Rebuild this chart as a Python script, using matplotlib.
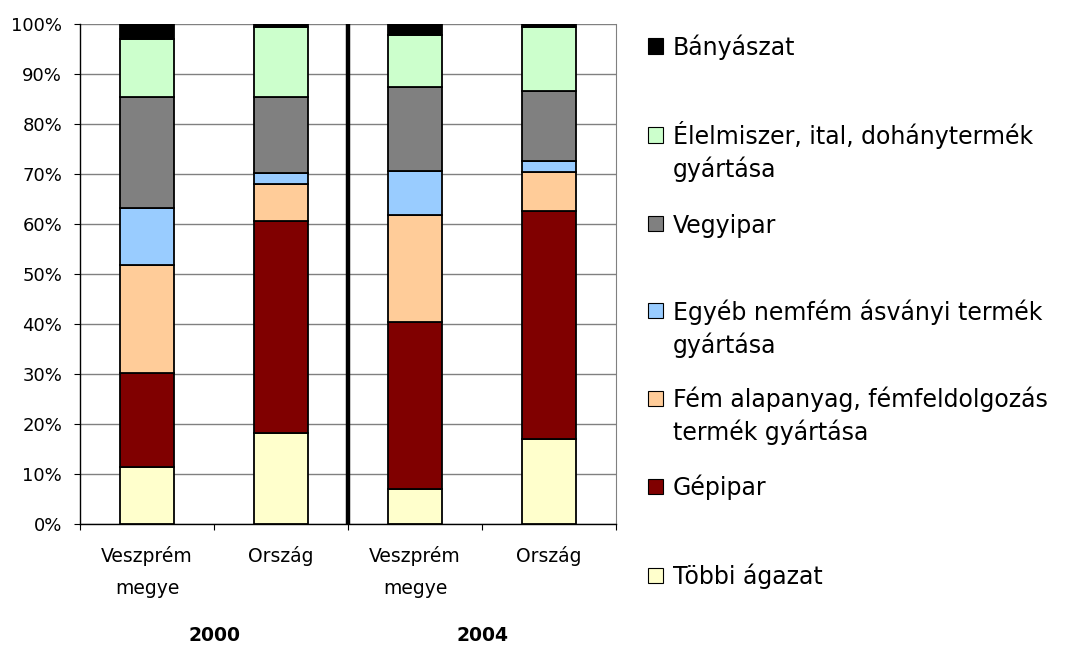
import numpy as np
import matplotlib
matplotlib.use("Agg")
import matplotlib.pyplot as plt
from matplotlib.patches import Rectangle
from matplotlib.transforms import blended_transform_factory

plt.rcParams["font.family"] = ["DejaVu Sans"]

# categories (two regions, two years)
categories = ["Veszprém\nmegye", "Ország", "Veszprém\nmegye", "Ország"]
years = ["2000", "2004"]

# shares in percent, bottom to top of each stack
tobbi = [11.5, 18.3, 7.1, 17.1]
gepipar = [18.7, 42.4, 33.3, 45.6]
fem = [21.7, 7.3, 21.5, 7.8]
egyeb = [11.3, 2.3, 8.8, 2.2]
vegyipar = [22.3, 15.2, 16.8, 14.0]
elelmiszer = [11.5, 14.0, 10.4, 12.8]
banyaszat = [3.0, 0.5, 2.1, 0.5]

series = [tobbi, gepipar, fem, egyeb, vegyipar, elelmiszer, banyaszat]
names = [
    "Többi ágazat",
    "Gépipar",
    "Fém alapanyag, fémfeldolgozás\ntermék gyártása",
    "Egyéb nemfém ásványi termék\ngyártása",
    "Vegyipar",
    "Élelmiszer, ital, dohánytermék\ngyártása",
    "Bányászat",
]
colors = ["#FFFFCC", "#800000", "#FFCC99", "#99CCFF", "#808080", "#CCFFCC", "#000000"]

W, H = 1076, 646
fig = plt.figure(figsize=(W / 100, H / 100), dpi=100)
ax = fig.add_axes([80 / W, 1 - 524.3 / H, 536 / W, 500 / H])

x = np.arange(len(categories))
bottom = np.zeros(len(categories))
for vals, col in zip(series, colors):
    ax.bar(x, vals, width=0.4, bottom=bottom, color=col, edgecolor="black",
           linewidth=1.3, zorder=3)
    bottom += np.array(vals)

# thick divider between the two years
ax.axvline(1.5, ymin=0, ymax=0.998, color="black", linewidth=3.2, zorder=4)

ax.set_xlim(-0.5, len(categories) - 0.5)
ax.set_ylim(0, 100)
ax.set_yticks(np.arange(0, 101, 10))
ax.set_yticklabels([f"{v}%" for v in range(0, 101, 10)], fontsize=13)
ax.yaxis.grid(True, color="#808080", linewidth=1.0, zorder=0)
ax.set_axisbelow(True)
ax.tick_params(axis="y", direction="out", length=4.3, width=0.8, pad=8.5)

ax.set_xticks(x)
ax.set_xticklabels(categories, fontsize=13.5, va="top")
for lab in ax.get_xticklabels():
    lab.set_linespacing(1.9)
ax.tick_params(axis="x", which="major", length=0, pad=15.5)
ax.set_xticks(np.arange(-0.5, len(categories), 1.0), minor=True)
ax.tick_params(axis="x", which="minor", direction="out", length=4.3, width=0.8)

ax.spines["top"].set_visible(False)
ax.spines["right"].set_color("#808080")
ax.spines["left"].set_linewidth(1.0)
ax.spines["bottom"].set_linewidth(1.0)

# year labels under each pair of bars
yr_trans = blended_transform_factory(ax.transData, fig.transFigure)
for i, yr in enumerate(years):
    ax.text(2 * i + 0.5, 1 - 626 / H, yr, transform=yr_trans,
            ha="center", va="top", fontsize=13.5, fontweight="bold")

# legend drawn by hand, top to bottom
leg_centers = [46, 135, 224, 311, 398, 486, 575]
line_step = 33
for k, (name, col) in enumerate(zip(names[::-1], colors[::-1])):
    cy = leg_centers[k]
    fig.patches.append(Rectangle((648 / W, 1 - (cy + 7.5) / H), 15 / W, 15 / H,
                                 facecolor=col, edgecolor="black", linewidth=0.8,
                                 transform=fig.transFigure, figure=fig))
    for j, line in enumerate(name.split("\n")):
        fig.text(673 / W, 1 - (cy + 8.6 + j * line_step) / H, line, fontsize=17,
                 va="baseline", ha="left")

fig.savefig("out.png", dpi=100)
